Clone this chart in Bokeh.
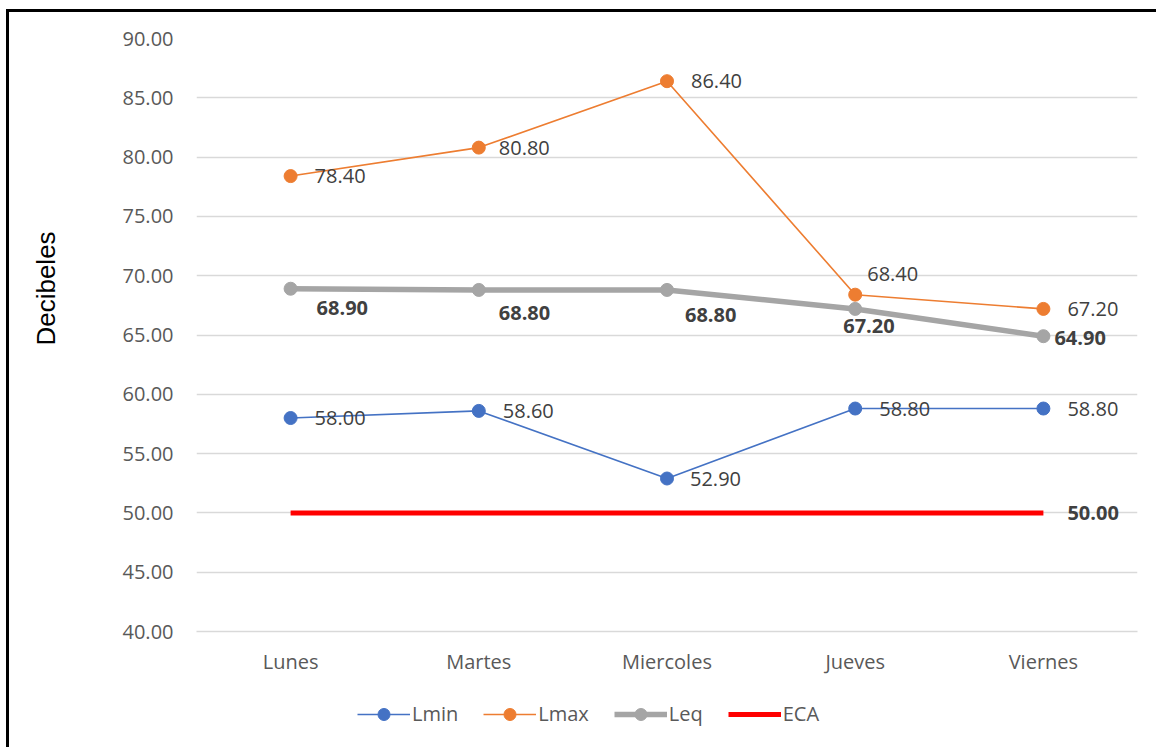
from bokeh.plotting import figure
from bokeh.layouts import column, row
from bokeh.models import (ColumnDataSource, FactorRange, Range1d, Legend, LegendItem,
                          FixedTicker, NumeralTickFormatter, Spacer, LinearAxis)
from bokeh.core.properties import value
from bokeh.embed import file_html
from bokeh.resources import INLINE

# ---- data ----
days = ["Lunes", "Martes", "Miercoles", "Jueves", "Viernes"]
lmin = [58.00, 58.60, 52.90, 58.80, 58.80]
lmax = [78.40, 80.80, 86.40, 68.40, 67.20]
leq = [68.90, 68.80, 68.80, 67.20, 64.90]
eca = [50.00, 50.00, 50.00, 50.00, 50.00]
y_ticks = [40, 45, 50, 55, 60, 65, 70, 75, 80, 85, 90]

# label offsets (screen px)
lmin_dx = [24, 24, 23, 24, 24]
lmin_dy = [0, 0, 0, 0, 0]
lmax_dx = [24, 20, 24, 12, 24]
lmax_dy = [0, 0, 0, -21, 0]
leq_dx = [26, 20, 18, -12, 11]
leq_dy = [19, 23, 25, 17, 2]

FONT = "Open Sans"
C_MIN = "#4472C4"
C_MAX = "#ED7D31"
C_EQ = "#A5A5A5"
C_ECA = "#FF0000"
TXT = "#404040"

LABEL_W = 60
ROW_H = 747 - 12
P_W = 1156 - 9 - LABEL_W
P_H = 668
LG_H = ROW_H - P_H

x_range = FactorRange(*days, range_padding=0)

p = figure(width=P_W, height=P_H,
           x_range=x_range,
           y_range=Range1d(40, 90),
           output_backend="svg", toolbar_location=None,
           min_border_left=196 - 9 - LABEL_W, min_border_right=19,
           min_border_top=38 - 12, min_border_bottom=P_H - (631 - 12))
p.outline_line_color = None
p.background_fill_color = "white"
p.border_fill_color = "white"

p.xgrid.grid_line_color = None
p.ygrid.grid_line_color = "#D9D9D9"
p.ygrid.grid_line_width = 1.5
p.yaxis.ticker = FixedTicker(ticks=y_ticks)
p.yaxis.formatter = NumeralTickFormatter(format="0.00")
p.yaxis.axis_line_color = None
p.yaxis.major_tick_line_color = None
p.yaxis.minor_tick_line_color = None
p.yaxis.major_tick_out = 0
p.yaxis.major_tick_in = 0
p.yaxis.major_label_standoff = 23
p.yaxis.major_label_text_font = FONT
p.yaxis.major_label_text_font_size = "20px"
p.yaxis.major_label_text_color = "#595959"

p.xaxis.axis_line_color = "#D9D9D9"
p.xaxis.axis_line_width = 1.5
p.xaxis.major_tick_line_color = None
p.xaxis.minor_tick_line_color = None
p.xaxis.major_tick_out = 0
p.xaxis.major_tick_in = 0
p.xaxis.major_label_standoff = 16
p.xaxis.major_label_text_font = FONT
p.xaxis.major_label_text_font_size = "20px"
p.xaxis.major_label_text_color = "#595959"

fmt = lambda vals: ["%.2f" % v for v in vals]

s_min = ColumnDataSource(dict(x=days, y=lmin, t=fmt(lmin), dx=lmin_dx, dy=lmin_dy))
s_max = ColumnDataSource(dict(x=days, y=lmax, t=fmt(lmax), dx=lmax_dx, dy=lmax_dy))
s_eq = ColumnDataSource(dict(x=days, y=leq, t=fmt(leq), dx=leq_dx, dy=leq_dy))
s_eca = ColumnDataSource(dict(x=days, y=eca, t=fmt(eca)))

MIN_LINE = dict(line_color=C_MIN, line_width=1.6)
MIN_DOT = dict(size=13, fill_color=C_MIN, line_color=C_MIN)
MAX_LINE = dict(line_color=C_MAX, line_width=1.6)
MAX_DOT = dict(size=13, fill_color=C_MAX, line_color=C_MAX)
EQ_LINE = dict(line_color=C_EQ, line_width=5.5)
EQ_DOT = dict(size=13, fill_color=C_EQ, line_color=C_EQ)
ECA_LINE = dict(line_color=C_ECA, line_width=5)

p.line("x", "y", source=s_min, **MIN_LINE)
p.scatter("x", "y", source=s_min, **MIN_DOT)
p.line("x", "y", source=s_max, **MAX_LINE)
p.scatter("x", "y", source=s_max, **MAX_DOT)
p.line("x", "y", source=s_eq, **EQ_LINE)
p.scatter("x", "y", source=s_eq, **EQ_DOT)
p.line("x", "y", source=s_eca, **ECA_LINE)

common = dict(text="t", text_font=value(FONT), text_font_size="20px",
              text_baseline="middle", text_color=TXT)
p.text("x", "y", source=s_min, x_offset="dx", y_offset="dy", text_align="left", **common)
p.text("x", "y", source=s_max, x_offset="dx", y_offset="dy", text_align="left", **common)
p.text("x", "y", source=s_eq, x_offset="dx", y_offset="dy", text_align="left",
       text_font_style="bold", **common)
s_eca_last = ColumnDataSource(dict(x=days[-1:], y=eca[-1:], t=fmt(eca[-1:])))
p.text("x", "y", source=s_eca_last, x_offset=24, text_align="left",
       text_font_style="bold", **common)

# ---- y axis title: narrow figure whose frame is centred on the title position ----
LF_FRAME_H = 2 * (288 - 12)
lf = figure(width=LABEL_W, height=ROW_H, output_backend="svg", toolbar_location=None,
            x_axis_location=None, y_axis_location=None,
            min_border_left=51, min_border_right=0, min_border_top=0,
            min_border_bottom=ROW_H - LF_FRAME_H,
            x_range=Range1d(0, 1), y_range=Range1d(0, 1))
lf.outline_line_color = None
lf.grid.visible = False
ax = LinearAxis(ticker=FixedTicker(ticks=[]), axis_label="Decibeles",
                axis_line_color=None, major_tick_out=0, major_tick_in=0,
                minor_tick_out=0, minor_tick_in=0, major_label_text_font_size="0px",
                axis_label_standoff=0, axis_label_text_font="Liberation Sans",
                axis_label_text_font_size="26px", axis_label_text_font_style="normal",
                axis_label_text_color="black")
lf.add_layout(ax, "left")

# ---- legend strip below the chart (same series, drawn out of its view) ----
lg = figure(width=P_W, height=LG_H, output_backend="svg", toolbar_location=None,
            x_axis_location=None, y_axis_location=None, min_border=0,
            x_range=x_range, y_range=Range1d(0, 1))
lg.outline_line_color = None
lg.grid.visible = False
g1 = lg.line("x", "y", source=s_min, **MIN_LINE)
g2 = lg.scatter("x", "y", source=s_min, **MIN_DOT)
g3 = lg.line("x", "y", source=s_max, **MAX_LINE)
g4 = lg.scatter("x", "y", source=s_max, **MAX_DOT)
g5 = lg.line("x", "y", source=s_eq, **EQ_LINE)
g6 = lg.scatter("x", "y", source=s_eq, **EQ_DOT)
g7 = lg.line("x", "y", source=s_eca, **ECA_LINE)
legend = Legend(items=[
    LegendItem(label="Lmin", renderers=[g1, g2]),
    LegendItem(label="Lmax", renderers=[g3, g4]),
    LegendItem(label="Leq", renderers=[g5, g6]),
    LegendItem(label="ECA", renderers=[g7]),
], orientation="horizontal", location="center_left")
legend.padding = 0
legend.margin = 357 - 196
legend.spacing = 25
legend.glyph_width = 53
legend.glyph_height = 30
legend.label_standoff = 2
legend.label_text_font = FONT
legend.label_text_font_size = "20px"
legend.label_text_color = "#595959"
legend.border_line_color = None
legend.background_fill_alpha = 0
lg.add_layout(legend)

black = {"background-color": "black"}
layout = column(
    Spacer(width=1156, height=9),
    row(Spacer(width=6, height=3), Spacer(width=1150, height=3, styles=black)),
    row(Spacer(width=6, height=ROW_H), Spacer(width=3, height=ROW_H, styles=black),
        lf, column(p, lg)),
)

open("out.html", "w").write(file_html(layout, INLINE))
